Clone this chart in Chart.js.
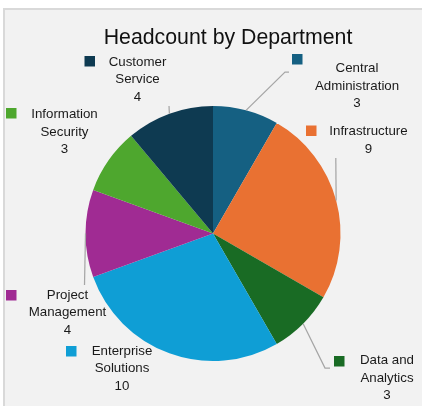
<!DOCTYPE html>
<html>
<head>
<meta charset="utf-8">
<title>Headcount by Department</title>
<script src="https://cdn.jsdelivr.net/npm/chart.js@4/dist/chart.umd.min.js"></script>
<style>
  html, body { margin: 0; padding: 0; background: #ffffff; }
  canvas { display: block; }
</style>
</head>
<body>
<canvas id="chart" width="422" height="406"></canvas>
<script>
// Departments and their headcounts, clockwise from 12 o'clock
const departments = [
  'Central Administration',
  'Infrastructure',
  'Data and Analytics',
  'Enterprise Solutions',
  'Project Management',
  'Information Security',
  'Customer Service'
];
const headcounts = [3, 9, 3, 10, 4, 3, 4];
const chartTitle = 'Headcount by Department';

// Slice palette (same order as departments)
const palette = ['#156082', '#e97132', '#196b24', '#0f9ed5', '#a02b93', '#4ea72e', '#0e3a51'];

const FONT = '"Liberation Sans", Arial, Helvetica, sans-serif';

// Where each outside label sits: colour key box, text block and leader path
const labelLayout = [
  { box: [292, 54],    cx: 357,   y0: 72,    leader: [[285, 72], [289, 72]] },
  { box: [306, 125.5], cx: 368.5, y0: 135,   leader: [[335.8, 158]] },
  { box: [334, 356],   cx: 387,   y0: 364,   leader: [[325, 368], [330, 368]] },
  { box: [66, 346],    cx: 122,   y0: 354.5, leader: null },
  { box: [6, 290],     cx: 67.5,  y0: 298.5, leader: [[84.5, 285]] },
  { box: [6, 108],     cx: 64.5,  y0: 118,   leader: null },
  { box: [84.5, 56],   cx: 137.5, y0: 65.5,  leader: [[169, 106]] }
];

function wrapWords(ctx, text, maxWidth) {
  const words = text.split(' ');
  const lines = [];
  let cur = '';
  for (const w of words) {
    const test = cur ? cur + ' ' + w : w;
    if (cur && ctx.measureText(test).width > maxWidth) {
      lines.push(cur);
      cur = w;
    } else {
      cur = test;
    }
  }
  if (cur) lines.push(cur);
  return lines;
}

// Panel background, frame and title
const panelPlugin = {
  id: 'panel',
  beforeDraw(chart) {
    const ctx = chart.ctx;
    ctx.save();
    ctx.fillStyle = '#ffffff';
    ctx.fillRect(0, 0, chart.width, chart.height);
    ctx.fillStyle = '#d9d9d9';
    ctx.fillRect(3, 8, chart.width + 10, chart.height + 10);
    ctx.fillStyle = '#f2f2f2';
    ctx.fillRect(5, 10, chart.width + 10, chart.height + 10);
    ctx.fillStyle = '#111111';
    ctx.font = '21.3px ' + FONT;
    ctx.textAlign = 'center';
    ctx.textBaseline = 'alphabetic';
    ctx.fillText(chartTitle, 228, 43.5);
    ctx.restore();
  }
};

// Outside labels with leader lines and colour keys
const outsideLabels = {
  id: 'outsideLabels',
  afterDatasetsDraw(chart) {
    const ctx = chart.ctx;
    const meta = chart.getDatasetMeta(0);
    ctx.save();
    // leader lines
    ctx.strokeStyle = '#a6a6a6';
    ctx.lineWidth = 1.25;
    meta.data.forEach((arc, i) => {
      const lay = labelLayout[i];
      if (!lay.leader) return;
      const mid = (arc.startAngle + arc.endAngle) / 2;
      const sx = arc.x + Math.cos(mid) * arc.outerRadius;
      const sy = arc.y + Math.sin(mid) * arc.outerRadius;
      ctx.beginPath();
      ctx.moveTo(sx, sy);
      lay.leader.forEach(p => ctx.lineTo(p[0], p[1]));
      ctx.stroke();
    });
    // keys and text
    ctx.font = '13.3px ' + FONT;
    ctx.textAlign = 'center';
    ctx.textBaseline = 'alphabetic';
    const lh = 17.6;
    departments.forEach((name, i) => {
      const lay = labelLayout[i];
      ctx.fillStyle = palette[i];
      ctx.fillRect(lay.box[0], lay.box[1], 10.5, 10.5);
      ctx.fillStyle = '#1a1a1a';
      const lines = wrapWords(ctx, name, 85);
      lines.push(String(headcounts[i]));
      lines.forEach((ln, k) => ctx.fillText(ln, lay.cx, lay.y0 + k * lh));
    });
    ctx.restore();
  }
};

new Chart(document.getElementById('chart'), {
  type: 'pie',
  data: {
    labels: departments,
    datasets: [{
      data: headcounts,
      backgroundColor: palette,
      borderWidth: 0
    }]
  },
  options: {
    responsive: false,
    animation: false,
    devicePixelRatio: 1,
    layout: { padding: { left: 85, right: 81, top: 106, bottom: 45 } },
    plugins: {
      legend: { display: false },
      tooltip: { enabled: false },
      title: { display: false }
    }
  },
  plugins: [panelPlugin, outsideLabels]
});
</script>
</body>
</html>
